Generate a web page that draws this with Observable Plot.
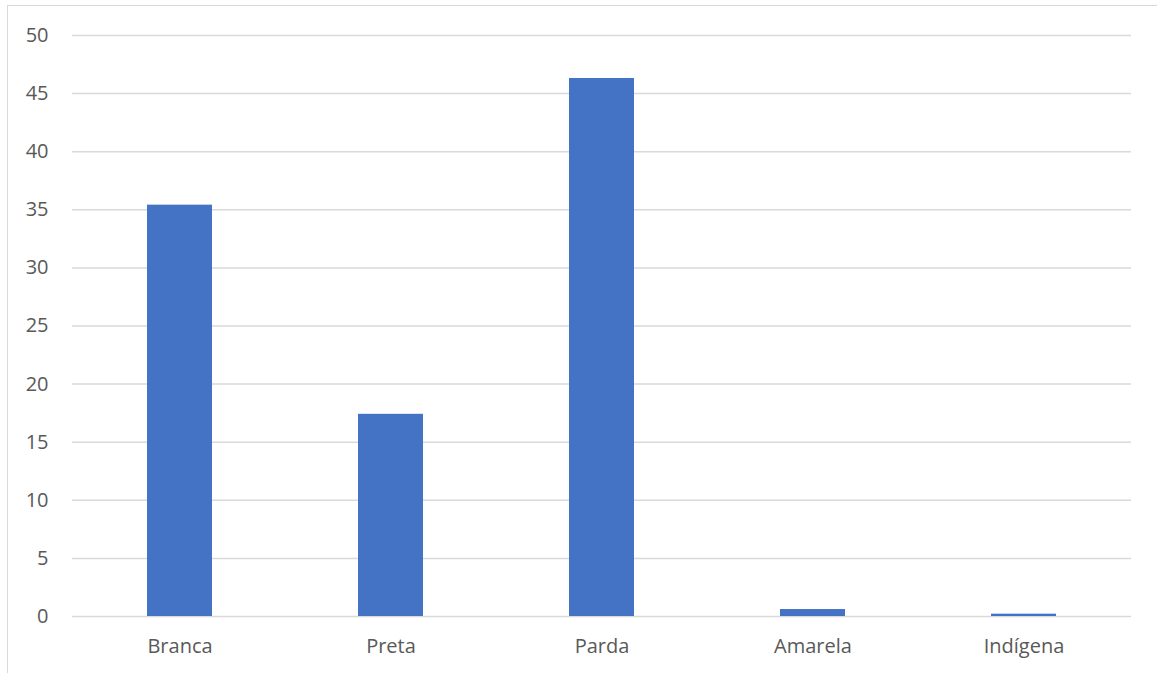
<!DOCTYPE html>
<html>
<head>
<meta charset="utf-8">
<script src="https://cdn.jsdelivr.net/npm/d3@7"></script>
<script src="https://cdn.jsdelivr.net/npm/@observablehq/plot@0.6"></script>
<style>
  html, body { margin: 0; padding: 0; background: #fff; }
  #wrap { position: relative; width: 1157px; height: 673px; overflow: hidden; }
  #frame { position: absolute; left: 7px; top: 5px; right: -10px; bottom: -10px;
           border: 1.5px solid #d9d9d9; pointer-events: none; }
</style>
</head>
<body>
<div id="wrap"><div id="frame"></div></div>
<script>
// Population share by colour/race (%)
const categories = ["Branca", "Preta", "Parda", "Amarela", "Indígena"];
const values = [35.4, 17.4, 46.3, 0.6, 0.2];
const yTicks = [0, 5, 10, 15, 20, 25, 30, 35, 40, 45, 50];

const data = categories.map((c, i) => ({ category: c, value: values[i] }));

const chart = Plot.plot({
  width: 1157,
  height: 673,
  marginLeft: 72,
  marginRight: 26,
  marginTop: 35,
  marginBottom: 57,
  style: { fontFamily: "'Open Sans', sans-serif", color: "#595959", background: "transparent" },
  x: { domain: categories, paddingInner: 0.69, paddingOuter: 0.345, label: null },
  y: { domain: [0, 50], label: null },
  marks: [
    Plot.ruleY(yTicks, { stroke: "#d9d9d9", strokeWidth: 1.5 }),
    Plot.barY(data, { x: "category", y: "value", fill: "#4472c4" }),
    Plot.axisX({ tickSize: 0, tickPadding: 22, fill: "#595959", fontSize: 20 }),
    Plot.axisY({ ticks: yTicks, tickSize: 0, tickPadding: 24, fill: "#595959", fontSize: 20 })
  ]
});
document.getElementById("wrap").prepend(chart);
</script>
</body>
</html>
